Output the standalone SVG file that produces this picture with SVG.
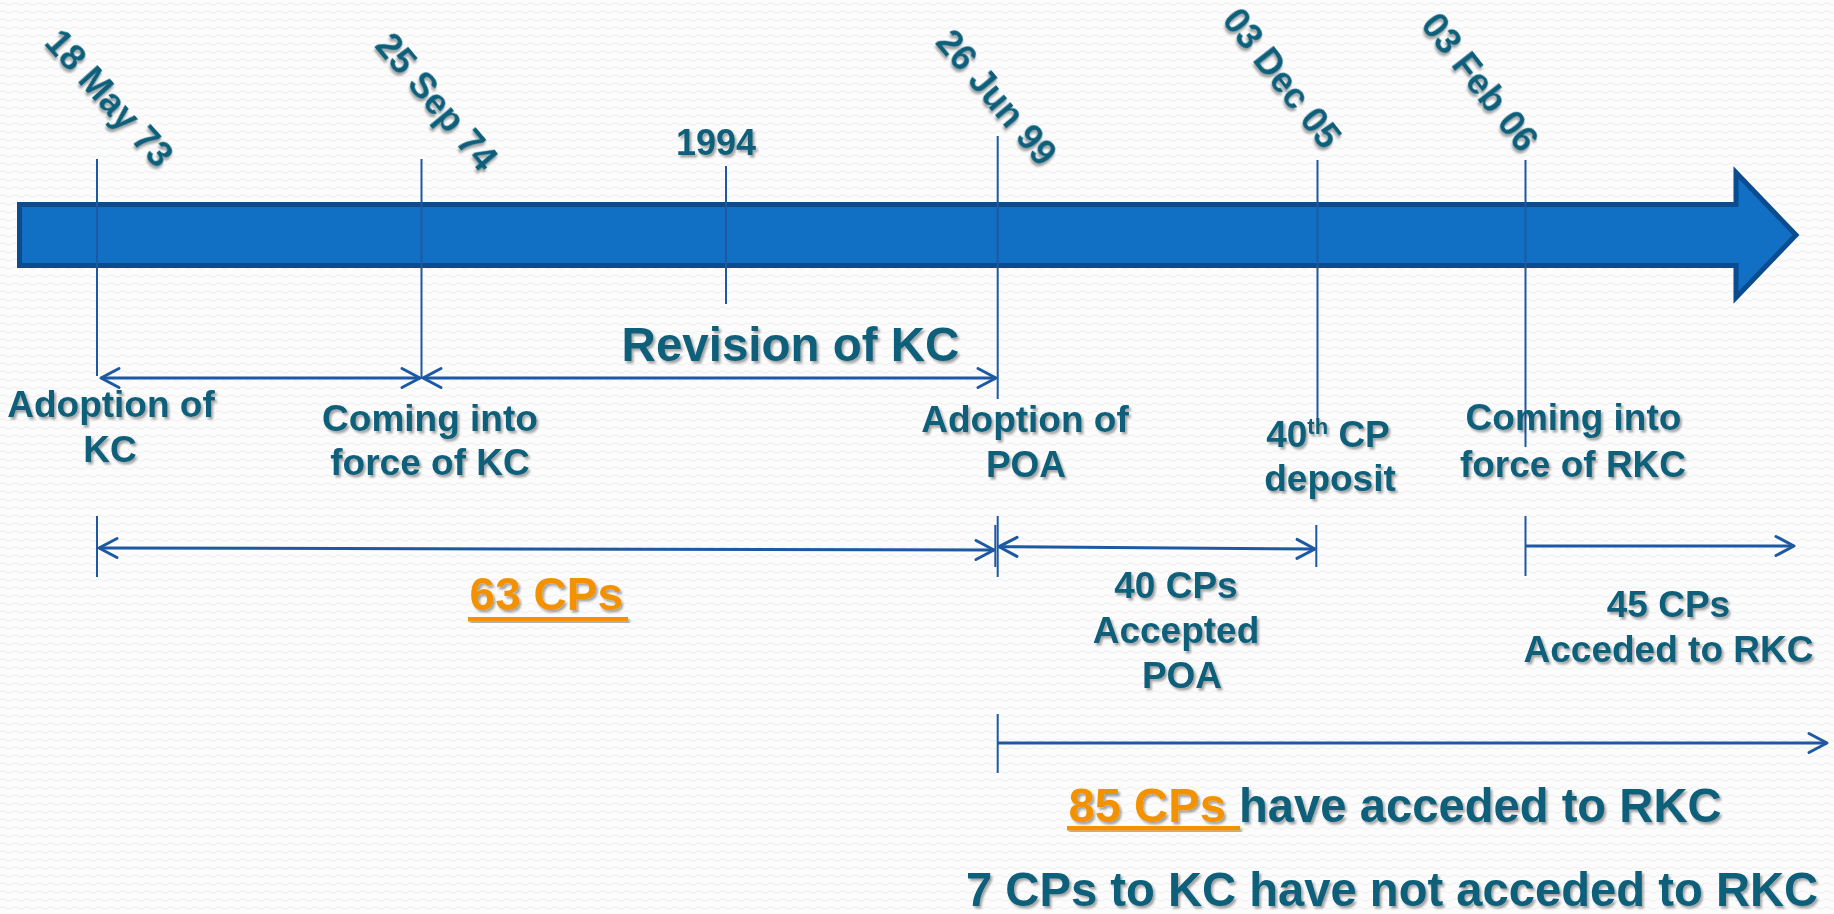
<svg xmlns="http://www.w3.org/2000/svg" width="1834" height="914" viewBox="0 0 1834 914">
<defs>
<style>
.t{font-family:"Liberation Sans",Arial,sans-serif;font-weight:bold;fill:#0E5E7A;filter:url(#sh)}
.lbl{font-size:37px;text-anchor:middle}
.date{font-size:36px;text-anchor:middle}
.big{font-size:47.2px}
.org{fill:#F39200}
.tick{stroke:#1D58A3;stroke-width:2;fill:none}
.conn{stroke:#1D58A3;stroke-width:3;fill:none}
.ul{fill:#F39200;filter:url(#sh)}
</style>
<filter id="sh" x="-10%" y="-10%" width="130%" height="140%">
<feDropShadow dx="2" dy="2.5" stdDeviation="1.3" flood-color="#000" flood-opacity="0.35"/>
</filter>
<pattern id="bg" width="12" height="8" patternUnits="userSpaceOnUse">
<path d="M0,4 Q3,1.5 6,4 T12,4" fill="none" stroke="#EEEEEE" stroke-width="1"/>
</pattern>
<marker id="chev" markerUnits="userSpaceOnUse" orient="auto-start-reverse" refX="0" refY="0" markerWidth="24" markerHeight="26" viewBox="-21 -13 24 26" overflow="visible">
<path d="M-18,-9.5 L0,0 L-18,9.5" fill="none" stroke="#1D58A3" stroke-width="3" stroke-linejoin="round" stroke-linecap="round"/>
</marker>
</defs>
<rect width="1834" height="914" fill="#FCFCFC"/>
<rect width="1834" height="914" fill="url(#bg)"/>

<g id="timeline">
<path d="M19.5,204.5 H1736 V172.5 L1796,235 L1736,297.5 V265.5 H19.5 Z" fill="#1170C4" stroke="#0A4C8F" stroke-width="5"/>
</g>

<g id="ticks">
<line class="tick" x1="97" y1="159" x2="97" y2="376"/>
<line class="tick" x1="97" y1="516" x2="97" y2="577"/>
<line class="tick" x1="421.5" y1="159" x2="421.5" y2="379"/>
<line class="tick" x1="726" y1="166" x2="726" y2="304"/>
<line class="tick" x1="997.7" y1="136" x2="997.7" y2="399"/>
<line class="tick" x1="997.7" y1="516" x2="997.7" y2="577"/>
<line class="tick" x1="995.3" y1="525" x2="995.3" y2="567"/>
<line class="tick" x1="997.7" y1="714" x2="997.7" y2="773"/>
<line class="tick" x1="1317.5" y1="160" x2="1317.5" y2="420"/>
<line class="tick" x1="1316.3" y1="525" x2="1316.3" y2="567"/>
<line class="tick" x1="1525.5" y1="160" x2="1525.5" y2="447"/>
<line class="tick" x1="1525.5" y1="516" x2="1525.5" y2="576"/>
</g>

<g id="connectors">
<line class="conn" x1="101" y1="378" x2="420" y2="378" marker-start="url(#chev)" marker-end="url(#chev)"/>
<line class="conn" x1="423" y1="378" x2="996" y2="378" marker-start="url(#chev)" marker-end="url(#chev)"/>
<line class="conn" x1="99" y1="548" x2="994" y2="550" marker-start="url(#chev)" marker-end="url(#chev)"/>
<line class="conn" x1="999" y1="546.7" x2="1315" y2="549" marker-start="url(#chev)" marker-end="url(#chev)"/>
<line class="conn" x1="1525.5" y1="546" x2="1794" y2="546" marker-end="url(#chev)"/>
<line class="conn" x1="997.7" y1="743" x2="1827" y2="743" marker-end="url(#chev)"/>
</g>

<g id="date-1973">
<text class="t date" transform="translate(100,106.7) rotate(48)">18 May 73</text>
</g>
<g id="date-1974">
<text class="t date" transform="translate(427,109.7) rotate(50)">25 Sep 74</text>
</g>
<g id="date-1994">
<text class="t" x="716" y="155" style="font-size:36px;text-anchor:middle">1994</text>
</g>
<g id="date-1999">
<text class="t date" transform="translate(987,105.5) rotate(50)">26 Jun 99</text>
</g>
<g id="date-2005">
<text class="t date" transform="translate(1272,86) rotate(52)">03 Dec 05</text>
</g>
<g id="date-2006">
<text class="t date" transform="translate(1470,90) rotate(52)">03 Feb 06</text>
</g>

<g id="revision">
<text class="t" x="790.5" y="361" style="font-size:47.5px;text-anchor:middle">Revision of KC</text>
</g>

<g id="adoption-kc">
<text class="t lbl" x="111" y="417">Adoption of</text>
<text class="t lbl" x="110" y="462">KC</text>
</g>
<g id="force-kc">
<text class="t lbl" x="430" y="431">Coming into</text>
<text class="t lbl" x="430" y="475">force of KC</text>
</g>
<g id="adoption-poa">
<text class="t lbl" x="1025" y="432">Adoption of</text>
<text class="t lbl" x="1026" y="477">POA</text>
</g>
<g id="deposit">
<text class="t lbl" x="1328" y="447">40<tspan dy="-13" style="font-size:22px">th</tspan><tspan dy="13"> CP</tspan></text>
<text class="t lbl" x="1330" y="491">deposit</text>
</g>
<g id="force-rkc">
<text class="t lbl" x="1573.5" y="430">Coming into</text>
<text class="t lbl" x="1573" y="477">force of RKC</text>
</g>
<g id="cps-40">
<text class="t lbl" x="1176" y="598">40 CPs</text>
<text class="t lbl" x="1176" y="643">Accepted</text>
<text class="t lbl" x="1182" y="688">POA</text>
</g>
<g id="cps-45">
<text class="t lbl" x="1668.5" y="617">45 CPs</text>
<text class="t lbl" x="1668.5" y="662">Acceded to RKC</text>
</g>
<g id="cps-63">
<text class="t org" x="469.6" y="610" style="font-size:46px">63 CPs</text>
<rect class="ul" x="468" y="617" width="160" height="4.5"/>
</g>
<g id="cps-85">
<text class="t big" x="1068.5" y="822"><tspan class="org">85 CPs </tspan>have acceded to RKC</text>
<rect class="ul" x="1067" y="826" width="173" height="4.5"/>
</g>
<g id="cps-7">
<text class="t big" x="966" y="906">7 CPs to KC have not acceded to RKC</text>
</g>
</svg>
